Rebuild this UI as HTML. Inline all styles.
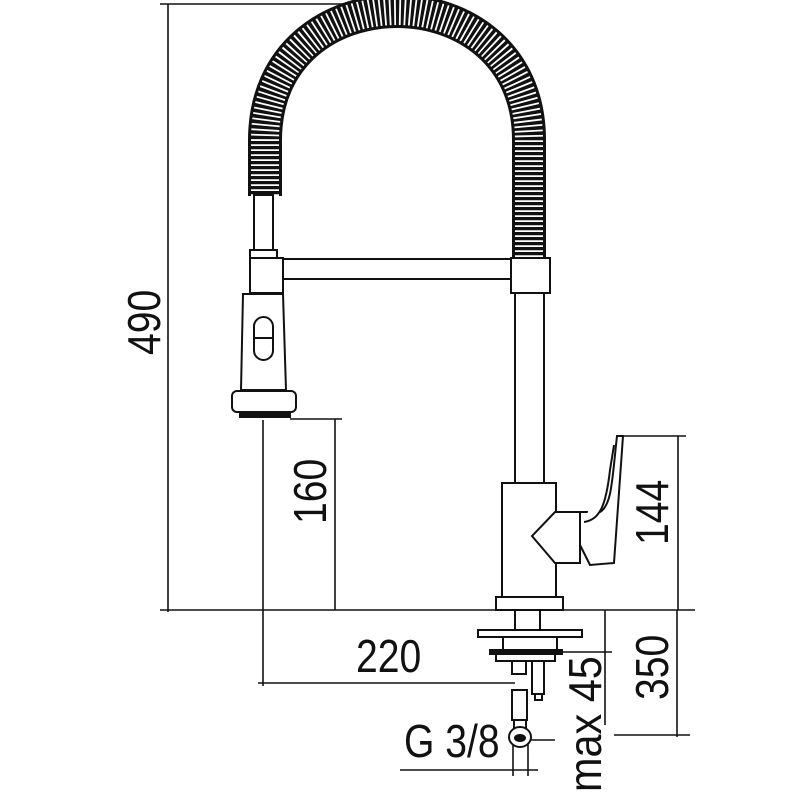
<!DOCTYPE html>
<html><head><meta charset="utf-8"><style>
html,body{margin:0;padding:0;background:#fff;}
svg{display:block;}
text{font-family:"Liberation Sans",sans-serif;fill:#111;}
</style></head><body>
<svg width="800" height="800" viewBox="0 0 800 800" xmlns="http://www.w3.org/2000/svg">
<g fill="none" stroke="#111" stroke-width="1.6">
<line x1="160" y1="4" x2="440" y2="4"/>
<line x1="168" y1="4" x2="168" y2="612"/>
<line x1="160" y1="610" x2="695" y2="610"/>
<line x1="290" y1="419" x2="342" y2="419"/>
<line x1="335" y1="419" x2="335" y2="610"/>
<line x1="263" y1="420" x2="263" y2="686"/>
<line x1="258" y1="683" x2="515" y2="683"/>
<line x1="620" y1="436" x2="686" y2="436"/>
<line x1="678" y1="436" x2="678" y2="610"/>
<line x1="677" y1="610" x2="677" y2="737"/>
<line x1="614" y1="735" x2="690" y2="735"/>
<line x1="520" y1="652" x2="612" y2="652"/>
<line x1="605" y1="610" x2="605" y2="725"/>
<line x1="530" y1="740" x2="555" y2="740"/>
<line x1="513" y1="740" x2="513" y2="776"/>
<line x1="528" y1="740" x2="528" y2="776"/>
<line x1="400" y1="770" x2="538" y2="770"/>
</g>
<path d="M265,196 L265,140 C265,-32 529,-32 529,140 L529,258" fill="none" stroke="#111" stroke-width="34"/>
<path d="M265,196 L265,140 C265,-32 529,-32 529,140 L529,258" fill="none" stroke="#fff" stroke-width="28" stroke-dasharray="1.8 3.2"/>
<g fill="#fff" stroke="#111" stroke-width="2">
<rect x="254" y="195" width="19" height="55"/>
<rect x="250" y="250" width="27" height="8"/>
<rect x="282" y="259" width="230" height="20"/>
<rect x="250" y="258" width="33" height="35"/>
<rect x="511" y="258" width="39" height="35"/>
<rect x="515" y="293" width="29" height="190"/>
<path d="M243,294 L283,294 L286,390 L241,390 Z"/>
<rect x="254" y="317" width="19" height="43" rx="9.5"/>
<line x1="254" y1="338" x2="273" y2="338"/>
<rect x="232" y="391" width="64" height="21" rx="5"/>
<rect x="240" y="412" width="50" height="5" fill="#111"/>
<rect x="502" y="483" width="54" height="114"/>
<rect x="496" y="597" width="67" height="13"/>
<path d="M555,512 L600,512 C612,505 612,480 617,436 L623,436 L614,563 L590,565 L580,545 L580,563 L555,563 L532,536 Z"/>
<line x1="580" y1="512" x2="580" y2="545"/>
<path d="M584,522 C600,520 606,505 610,470 L614,445" />
<rect x="515" y="610" width="25" height="20"/>
<rect x="478" y="630" width="104" height="7"/>
<rect x="503" y="637" width="54" height="13"/>
<rect x="490" y="650" width="72" height="4" fill="#111"/>
<rect x="496" y="654" width="59" height="7"/>
<rect x="512" y="661" width="14" height="13"/>
<rect x="532" y="661" width="12" height="33"/>
<rect x="535" y="694" width="7" height="6"/>
<path d="M512,690 L527,690 L527,720 L512,720 Z"/>
<path d="M514,720 L526,720 L526,728 L514,728 Z"/>
<ellipse cx="520" cy="737" rx="11" ry="10"/>
<ellipse cx="520" cy="738" rx="5" ry="3" fill="#111"/>
</g>
<g font-size="46">
<text transform="translate(160,355) rotate(-90) scale(0.85,1)">490</text>
<text transform="translate(326,524) rotate(-90) scale(0.85,1)">160</text>
<text transform="translate(668,545) rotate(-90) scale(0.85,1)">144</text>
<text transform="translate(668,700) rotate(-90) scale(0.85,1)">350</text>
<text transform="translate(601,792) rotate(-90) scale(0.9,1)">max 45</text>
<text transform="translate(356,672) scale(0.85,1)">220</text>
<text transform="translate(404,757) scale(0.85,1)">G 3/8</text>
</g>
</svg>
</body></html>
